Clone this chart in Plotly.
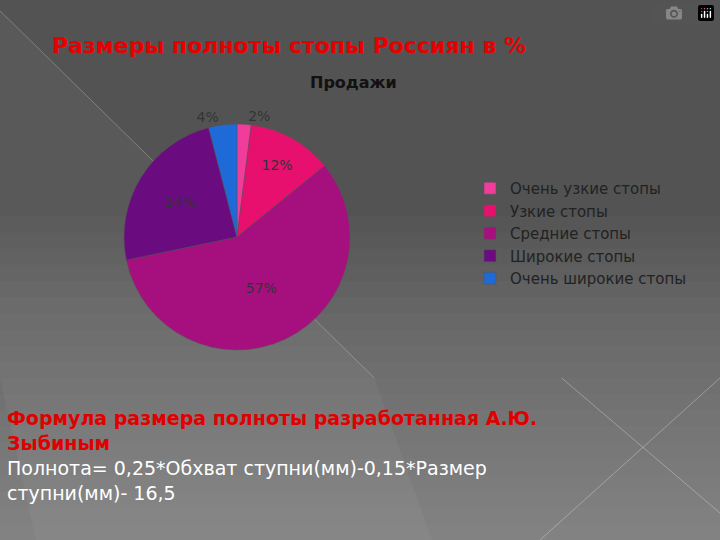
import plotly.graph_objects as go

labels = ["Очень узкие стопы", "Узкие стопы", "Средние стопы", "Широкие стопы", "Очень широкие стопы"]
values = [2, 12, 57, 24, 4]
colors = ["#F03C9A", "#E8106E", "#A6107E", "#6A0C80", "#1E6AD8"]

fig = go.Figure()
fig.add_trace(go.Pie(
    labels=labels, values=values, sort=False, direction="clockwise", rotation=0,
    marker=dict(colors=colors, line=dict(color="#555", width=0.5)),
    texttemplate="%{value}%", textposition=["outside", "inside", "inside", "inside", "outside"],
    insidetextorientation="horizontal", automargin=False,
    textfont=dict(color="#333", size=14, family="DejaVu Sans"),
    domain=dict(x=[124/720, 350/720], y=[1-350/540, 1-124/540]),
))
shapes = [dict(type="rect", xref="paper", yref="paper", x0=0, x1=1, y0=0, y1=1,
               fillcolor="#535353", line_width=0, layer="below")]
# smooth vertical gradient toward lighter bottom
n = 20
for i in range(n):
    y1 = 0.6 * (1 - i / n)
    shapes.append(dict(type="rect", xref="paper", yref="paper", x0=0, x1=1, y0=0, y1=y1,
                       fillcolor="rgba(255,255,255,0.018)", line_width=0, layer="below"))
shapes += [
    dict(type="path", xref="paper", yref="paper", path="M 0 0.3 L 0 0.98 L 0.52 0.3 L 0.6 0 L 0.05 0 Z",
         fillcolor="rgba(255,255,255,0.04)", line_width=0, layer="below"),
    dict(type="line", xref="paper", yref="paper", x0=0.0, y0=0.98, x1=0.52, y1=0.3,
         line=dict(color="rgba(255,255,255,0.25)", width=1), layer="below"),
    dict(type="line", xref="paper", yref="paper", x0=1.0, y0=0.3, x1=0.75, y1=0.0,
         line=dict(color="rgba(255,255,255,0.3)", width=1), layer="below"),
    dict(type="line", xref="paper", yref="paper", x0=0.78, y0=0.3, x1=1.0, y1=0.05,
         line=dict(color="rgba(255,255,255,0.3)", width=1), layer="below"),
]
ann = [
    dict(text="<b>Размеры полноты стопы Россиян в %</b>", x=50/720, y=1-45/540, xanchor="left", yanchor="middle",
         font=dict(size=22, color="#E80000", family="DejaVu Sans")),
    dict(text="<b>Продажи</b>", x=353/720, y=1-82/540, xanchor="center", yanchor="middle",
         font=dict(size=16, color="#111", family="DejaVu Sans")),
    dict(text="<b>Формула размера полноты разработанная А.Ю.<br>Зыбиным</b>", x=5/720, y=1-405/540,
         xanchor="left", yanchor="top", align="left",
         font=dict(size=19, color="#E00000", family="DejaVu Sans")),
    dict(text="Полнота= 0,25*Обхват ступни(мм)-0,15*Размер<br>ступни(мм)- 16,5", x=5/720, y=1-455/540,
         xanchor="left", yanchor="top", align="left",
         font=dict(size=19, color="white", family="DejaVu Sans")),
]
for a in ann:
    a.update(xref="paper", yref="paper", showarrow=False)

fig.update_layout(
    width=720, height=540, margin=dict(l=0, r=0, t=0, b=0),
    paper_bgcolor="#555", plot_bgcolor="#555",
    shapes=shapes, annotations=ann,
    legend=dict(x=470/720, y=1-172/540, xanchor="left", yanchor="top",
                font=dict(size=15, color="#222", family="DejaVu Sans"),
                bgcolor="rgba(0,0,0,0)", itemwidth=30, tracegroupgap=6),
)
fig.write_html("out.html", post_script="document.body.style.margin='0';")
